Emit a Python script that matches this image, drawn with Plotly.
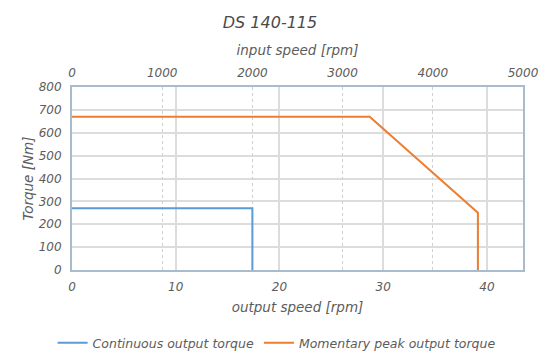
import plotly.graph_objects as go

title = "DS 140-115"
ratio = 115
cont_x = [0, 17.39, 17.39]
cont_y = [270, 270, 0]
peak_x = [0, 28.7, 39.13, 39.13]
peak_y = [670, 670, 250, 0]
out_ticks = [0, 10, 20, 30, 40]
in_ticks = [0, 1000, 2000, 3000, 4000, 5000]
y_ticks = [0, 100, 200, 300, 400, 500, 600, 700, 800]

FONT = "DejaVu Sans"
GRAY = "#5c5c5c"
AX = "#a9bccd"

fig = go.Figure()
fig.add_trace(go.Scatter(x=cont_x, y=cont_y, mode="lines", name="Continuous output torque",
                         line=dict(color="#5b9bd5", width=2)))
fig.add_trace(go.Scatter(x=peak_x, y=peak_y, mode="lines", name="Momentary peak output torque",
                         line=dict(color="#ed7d31", width=2)))
fig.add_trace(go.Scatter(x=[0, in_ticks[-1]], y=[0, 0], xaxis="x2", mode="lines",
                         line=dict(width=0), showlegend=False, hoverinfo="skip"))

tf = dict(family=FONT, size=12, color=GRAY, style="italic")
ttf = dict(family=FONT, size=13.5, color=GRAY, style="italic")
fig.update_layout(
    width=540, height=354,
    margin=dict(l=72, r=17, t=87, b=84, autoexpand=False),
    paper_bgcolor="white", plot_bgcolor="white",
    title=dict(text=title, x=0.5, xanchor="center", y=0.937, yanchor="middle",
               font=dict(family=FONT, size=16, color="#4a4a4a", style="italic")),
    xaxis=dict(range=[0, in_ticks[-1] / ratio], tickvals=out_ticks, tickfont=tf,
               showgrid=True, gridcolor="#dcdcdc", gridwidth=2, automargin=False,
               ticklabelstandoff=5,
               showline=True, linecolor=AX, linewidth=2, zeroline=False, ticks="",
               title=dict(text="output speed [rpm]", font=ttf, standoff=9)),
    xaxis2=dict(range=[0, in_ticks[-1]], tickvals=in_ticks, overlaying="x", side="top",
                tickfont=tf, showgrid=True, gridcolor="#d0d0d0", griddash="dot", gridwidth=1,
                automargin=False, ticklabelstandoff=3, ticklabeloverflow="allow",
                showline=True, linecolor=AX, linewidth=2, zeroline=False, ticks="",
                title=dict(text="input speed [rpm]", font=ttf, standoff=7)),
    yaxis=dict(range=[0, 800], tickvals=y_ticks, tickfont=tf, automargin=False,
               ticklabelstandoff=6,
               showgrid=True, gridcolor="#dcdcdc", gridwidth=2,
               showline=True, linecolor=AX, linewidth=2, mirror=True, zeroline=False, ticks="",
               title=dict(text="Torque [Nm]", font=ttf, standoff=2)),
    legend=dict(orientation="h", xref="paper", x=-0.043, xanchor="left", y=-0.40, yanchor="middle",
                font=dict(family=FONT, size=12.5, color=GRAY, style="italic"), itemwidth=30),
)
fig.write_html("out.html", post_script="document.body.style.margin='0';",
               config={"displayModeBar": False})
